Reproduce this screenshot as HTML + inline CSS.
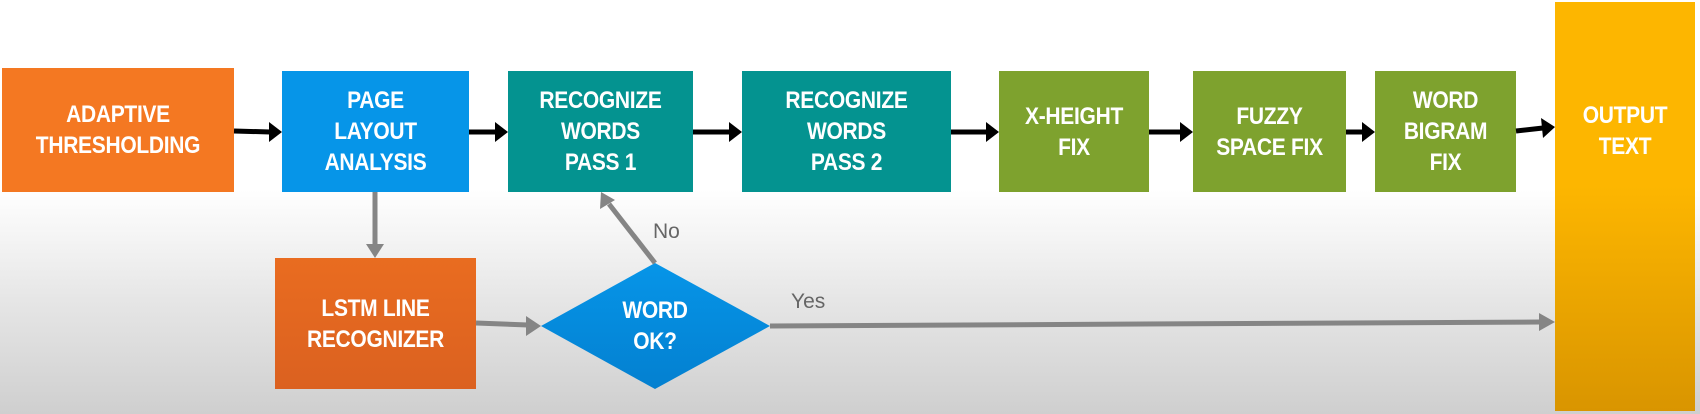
<!DOCTYPE html>
<html><head><style>
html,body{margin:0;padding:0}
body{width:1700px;height:414px;position:relative;overflow:hidden;background:linear-gradient(to bottom,#fff 0px,#fff 190px,#e6e6e6 300px,#cfcfcf 414px);font-family:"Liberation Sans",sans-serif}
.b{position:absolute;display:flex;align-items:center;justify-content:center;text-align:center;color:#fff;font-weight:bold;font-size:21px;line-height:27px;letter-spacing:-0.3px}
.b span{display:inline-block;transform:scaleY(1.15)}
svg{position:absolute;left:0;top:0}
.l{position:absolute;color:#666;font-size:21px}
</style></head><body>
<div class="b" style="left:2px;top:68px;width:232px;height:124px;background:#f47822"><span>ADAPTIVE<br>THRESHOLDING</span></div>
<div class="b" style="left:282px;top:71px;width:187px;height:121px;background:#0695e8"><span>PAGE<br>LAYOUT<br>ANALYSIS</span></div>
<div class="b" style="left:508px;top:71px;width:185px;height:121px;background:#049390"><span>RECOGNIZE<br>WORDS<br>PASS 1</span></div>
<div class="b" style="left:742px;top:71px;width:209px;height:121px;background:#049390"><span>RECOGNIZE<br>WORDS<br>PASS 2</span></div>
<div class="b" style="left:999px;top:71px;width:150px;height:121px;background:#7ea22e"><span>X-HEIGHT<br>FIX</span></div>
<div class="b" style="left:1193px;top:71px;width:153px;height:121px;background:#7ea22e"><span>FUZZY<br>SPACE FIX</span></div>
<div class="b" style="left:1375px;top:71px;width:141px;height:121px;background:#7ea22e"><span>WORD<br>BIGRAM<br>FIX</span></div>
<div class="b" style="left:1555px;top:2px;width:140px;height:409px;background:linear-gradient(to bottom,#fdb600 0%,#fdb600 45%,#d99500 100%);align-items:flex-start"><span style="margin-top:102px">OUTPUT<br>TEXT</span></div>
<div class="b" style="left:275px;top:258px;width:201px;height:131px;background:linear-gradient(#e96c20,#db6120)"><span>LSTM LINE<br>RECOGNIZER</span></div>
<svg width="1700" height="414">
<defs>
<linearGradient id="dg" x1="0" y1="0" x2="0" y2="1"><stop offset="0" stop-color="#0695e8"/><stop offset="1" stop-color="#0480d0"/></linearGradient>
</defs>
<polygon points="655,263 770,326 655,389 541,326" fill="url(#dg)"/>
<g stroke="#000" stroke-width="5" fill="#000">
<line x1="234" y1="131" x2="270" y2="132"/><polygon points="269,122 282,132 269,142" stroke="none"/>
<line x1="469" y1="132" x2="496" y2="132"/><polygon points="495,122 508,132 495,142" stroke="none"/>
<line x1="693" y1="132" x2="730" y2="132"/><polygon points="729,122 742,132 729,142" stroke="none"/>
<line x1="951" y1="132" x2="987" y2="132"/><polygon points="986,122 999,132 986,142" stroke="none"/>
<line x1="1149" y1="132" x2="1181" y2="132"/><polygon points="1180,122 1193,132 1180,142" stroke="none"/>
<line x1="1346" y1="132" x2="1363" y2="132"/><polygon points="1362,122 1375,132 1362,142" stroke="none"/>
<line x1="1516" y1="131" x2="1543" y2="128"/><polygon points="1541,118 1555,127 1543,138" stroke="none"/>
</g>
<g stroke="#858585" stroke-width="5" fill="#858585">
<line x1="375" y1="192" x2="375" y2="246"/><polygon points="366,244 375,258 384,244" stroke="none"/>
<line x1="476" y1="323" x2="528" y2="325"/><polygon points="526,316 541,326 526,336" stroke="none"/>
<line x1="655" y1="263" x2="609" y2="204"/><polygon points="601,192 600,209 615,200" stroke="none"/>
<line x1="770" y1="326" x2="1540" y2="322"/><polygon points="1539,313 1555,322 1539,331" stroke="none"/>
</g>
</svg>
<div class="b" style="left:595px;top:296px;width:120px;height:60px"><span>WORD<br>OK?</span></div>
<div class="l" style="left:653px;top:220px">No</div>
<div class="l" style="left:791px;top:290px">Yes</div>
</body></html>
